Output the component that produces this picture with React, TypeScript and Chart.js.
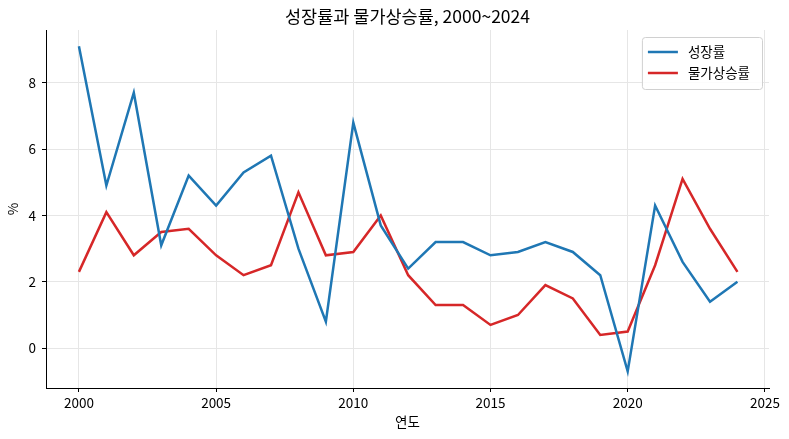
import React, { useEffect, useRef } from "react";
import { Chart, ChartConfiguration, Plugin, registerables } from "chart.js";

Chart.register(...registerables);

const years = [
  2000, 2001, 2002, 2003, 2004, 2005, 2006, 2007, 2008, 2009, 2010, 2011, 2012,
  2013, 2014, 2015, 2016, 2017, 2018, 2019, 2020, 2021, 2022, 2023, 2024,
];
const growth = [
  9.1, 4.9, 7.7, 3.1, 5.2, 4.3, 5.3, 5.8, 3.0, 0.8, 6.8, 3.7, 2.4, 3.2, 3.2,
  2.8, 2.9, 3.2, 2.9, 2.2, -0.7, 4.3, 2.6, 1.4, 2.0,
];
const inflation = [
  2.3, 4.1, 2.8, 3.5, 3.6, 2.8, 2.2, 2.5, 4.7, 2.8, 2.9, 4.0, 2.2, 1.3, 1.3,
  0.7, 1.0, 1.9, 1.5, 0.4, 0.5, 2.5, 5.1, 3.6, 2.3,
];
const xTicks = [2000, 2005, 2010, 2015, 2020, 2025];
const yTicks = [0, 2, 4, 6, 8];

const FONT = "'Noto Sans CJK KR', 'Noto Sans', sans-serif";
const TITLE = "성장률과 물가상승률, 2000~2024";

// title centred over the plot area + legend box inside it (upper right)
const overlay: Plugin<"line"> = {
  id: "overlay",
  afterDraw(chart) {
    const { ctx, chartArea } = chart;
    ctx.save();
    ctx.fillStyle = "#000";
    ctx.font = `17.5px ${FONT}`;
    ctx.textAlign = "center";
    ctx.textBaseline = "middle";
    ctx.fillText(TITLE, (chartArea.left + chartArea.right) / 2, 16);

    const sets = chart.data.datasets;
    ctx.font = `13.5px ${FONT}`;
    const textW = Math.max(...sets.map((d) => ctx.measureText(String(d.label)).width));
    const boxW = 10 + 30 + 10 + textW + 8;
    const boxH = 10 + sets.length * 21;
    const x0 = chartArea.right - 7 - boxW;
    const y0 = chartArea.top + 7;
    ctx.fillStyle = "rgba(255,255,255,0.85)";
    ctx.strokeStyle = "#d0d0d0";
    ctx.lineWidth = 1;
    ctx.beginPath();
    ctx.roundRect(x0 + 0.5, y0 + 0.5, boxW, boxH, 3);
    ctx.fill();
    ctx.stroke();
    ctx.textAlign = "left";
    sets.forEach((d, i) => {
      const y = y0 + 15 + i * 21;
      ctx.strokeStyle = String(d.borderColor);
      ctx.lineWidth = 2.5;
      ctx.beginPath();
      ctx.moveTo(x0 + 6, y);
      ctx.lineTo(x0 + 36, y);
      ctx.stroke();
      ctx.fillStyle = "#000";
      ctx.fillText(String(d.label), x0 + 46, y);
    });
    ctx.restore();
  },
};

const App: React.FC = () => {
  const canvasRef = useRef<HTMLCanvasElement | null>(null);
  const chartRef = useRef<Chart | null>(null);

  useEffect(() => {
    if (!canvasRef.current) return;
    if (chartRef.current) chartRef.current.destroy();

    const config: ChartConfiguration<"line"> = {
      type: "line",
      data: {
        datasets: [
          {
            label: "성장률",
            data: years.map((y, i) => ({ x: y, y: growth[i] })),
            borderColor: "#1f77b4",
            backgroundColor: "#1f77b4",
            borderWidth: 2.5,
            pointRadius: 0,
            tension: 0,
          },
          {
            label: "물가상승률",
            data: years.map((y, i) => ({ x: y, y: inflation[i] })),
            borderColor: "#d62728",
            backgroundColor: "#d62728",
            borderWidth: 2.5,
            pointRadius: 0,
            tension: 0,
          },
        ],
      },
      options: {
        responsive: false,
        animation: false,
        devicePixelRatio: 1,
        layout: { padding: { top: 30, right: 20, left: 0, bottom: 0 } },
        plugins: {
          legend: { display: false },
          title: { display: false },
          tooltip: { enabled: false },
        },
        scales: {
          x: {
            type: "linear",
            min: 1998.8,
            max: 2025.15,
            afterBuildTicks: (s) => {
              s.ticks = xTicks.map((v) => ({ value: v }));
            },
            afterFit: (s) => {
              s.height = 51;
            },
            ticks: {
              callback: (v) => String(v),
              color: "#000",
              font: { family: FONT, size: 13.5 },
              padding: 3,
              maxRotation: 0,
            },
            grid: {
              color: "#e6e6e6",
              tickColor: "#000",
              tickLength: 4,
            },
            border: { color: "#000", width: 1 },
            title: {
              display: true,
              text: "연도",
              color: "#000",
              font: { family: FONT, size: 13.5 },
              padding: { top: 0, bottom: 9 },
            },
          },
          y: {
            type: "linear",
            min: -1.2,
            max: 9.59,
            afterBuildTicks: (s) => {
              s.ticks = yTicks.map((v) => ({ value: v }));
            },
            afterFit: (s) => {
              s.width = 46;
            },
            ticks: {
              callback: (v) => String(v),
              color: "#000",
              font: { family: FONT, size: 13.5 },
              padding: 6,
            },
            grid: {
              color: "#e6e6e6",
              tickColor: "#000",
              tickLength: 4,
            },
            border: { color: "#000", width: 1 },
            title: {
              display: true,
              text: "%",
              color: "#000",
              font: { family: FONT, size: 13.5 },
              padding: { top: 5, bottom: 0 },
            },
          },
        },
      },
      plugins: [overlay],
    };

    chartRef.current = new Chart(canvasRef.current, config);
    return () => {
      if (chartRef.current) {
        chartRef.current.destroy();
        chartRef.current = null;
      }
    };
  }, []);

  return (
    <div style={{ position: "fixed", left: 0, top: 0, width: 789, height: 439, background: "#fff" }}>
      <canvas ref={canvasRef} width={789} height={439} style={{ display: "block" }} />
    </div>
  );
};

export default App;
